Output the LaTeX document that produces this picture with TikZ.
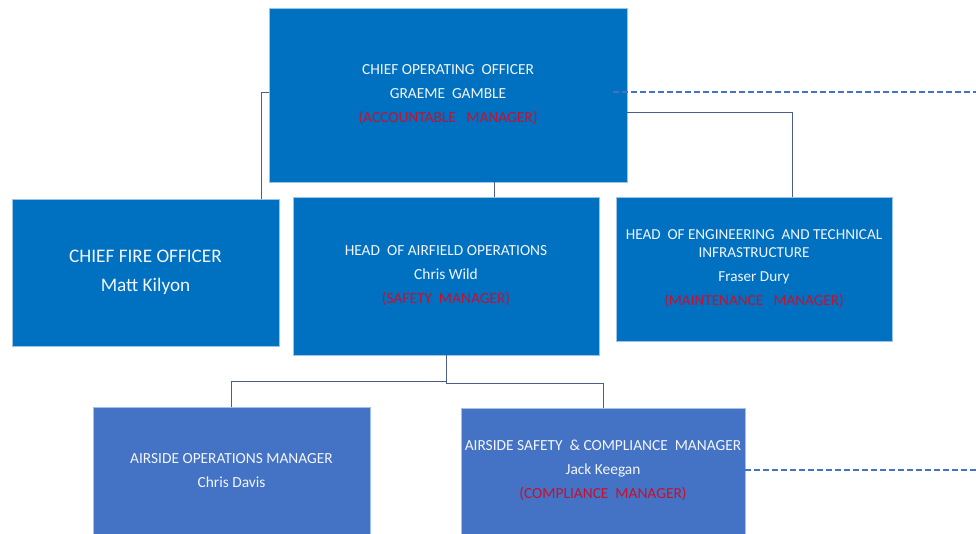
\documentclass[tikz,border=0pt]{standalone}
\usepackage{fontspec}
\setmainfont{Carlito}
\usetikzlibrary{calc}
\definecolor{boxA}{HTML}{0070C0}
\definecolor{boxB}{HTML}{4472C4}
\definecolor{edgeC}{HTML}{9DC3E6}
\definecolor{connC}{HTML}{4A5E8E}
\definecolor{dashC}{HTML}{4472C4}
\definecolor{redtxt}{HTML}{C8102E}
\definecolor{wtxt}{HTML}{F2F6FC}
\tikzset{
  orgbox/.style={rectangle, fill=boxA, draw=edgeC, line width=0.6pt, inner sep=0pt,
    text=wtxt, align=center, font=\fontsize{15.4}{24}\selectfont},
  orgboxB/.style={orgbox, fill=boxB},
  txt/.style={text=wtxt, align=center, inner sep=0pt, font=\fontsize{15.4}{24}\selectfont},
  conn/.style={draw=connC, line width=1pt},
  dashline/.style={draw=dashC, line width=1.6pt, dash pattern=on 6pt off 3pt},
}
\newcommand{\rd}[1]{\textcolor{redtxt}{#1}}
\begin{document}
\begin{tikzpicture}[x=1pt,y=-1pt]
\useasboundingbox (0,0) rectangle (976,533);
% boxes
\node[orgbox, minimum width=358pt, minimum height=174pt] (coo) at (448,95)
  {CHIEF OPERATING\ \ OFFICER\\GRAEME\ \ GAMBLE\\\rd{(ACCOUNTABLE\ \ \ MANAGER)}};
\node[orgbox, minimum width=267pt, minimum height=147pt, font=\fontsize{19.2}{29}\selectfont] (cfo) at (145.5,272.5)
  {CHIEF FIRE OFFICER\\Matt Kilyon};
\node[orgbox, minimum width=306pt, minimum height=158pt] (hao) at (446,276)
  {HEAD\ \ OF AIRFIELD OPERATIONS\\Chris Wild\\\rd{(SAFETY\ \ MANAGER)}};
\node[orgbox, minimum width=276pt, minimum height=144pt, font=\fontsize{15.2}{18}\selectfont] (eng) at (754,269)
  {HEAD\ \ OF ENGINEERING\ \ AND TECHNICAL\\INFRASTRUCTURE\\[6pt]Fraser Dury\\[6pt]\rd{(MAINTENANCE\ \ \ MANAGER)}};
\node[orgboxB, minimum width=277pt, minimum height=140pt, anchor=north] (ops) at (231.5,407) {};
\node[txt] (opsT) at (231.5,471) {AIRSIDE OPERATIONS MANAGER\\Chris Davis};
\node[orgboxB, minimum width=284pt, minimum height=140pt, anchor=north] (ass) at (603,408) {};
\node[txt] (assT) at (603,470) {AIRSIDE SAFETY\ \ \&\ COMPLIANCE\ \ MANAGER\\Jack Keegan\\\rd{(COMPLIANCE\ \ MANAGER)}};
% free ends
\coordinate (e1) at (976,92);
\coordinate (e2) at (976,470);
% connectors
\draw[conn] ([yshift=3pt]coo.west) -| ([xshift=-7pt]coo.west |- cfo.north);
\draw[conn] ([xshift=46pt]coo.south) -- ([xshift=46pt]coo.south |- hao.north);
\draw[conn] ([yshift=-17pt]coo.east) -| ([xshift=38pt]eng.north);
\draw[conn] (hao.south) -- ++(0,26) -| (ops.north);
\draw[conn] (hao.south) -- ++(0,28) -| (ass.north);
\draw[dashline] ([xshift=-14pt,yshift=3pt]coo.east) -- (e1);
\draw[dashline] (ass.east |- assT) -- (e2);
\end{tikzpicture}
\end{document}
